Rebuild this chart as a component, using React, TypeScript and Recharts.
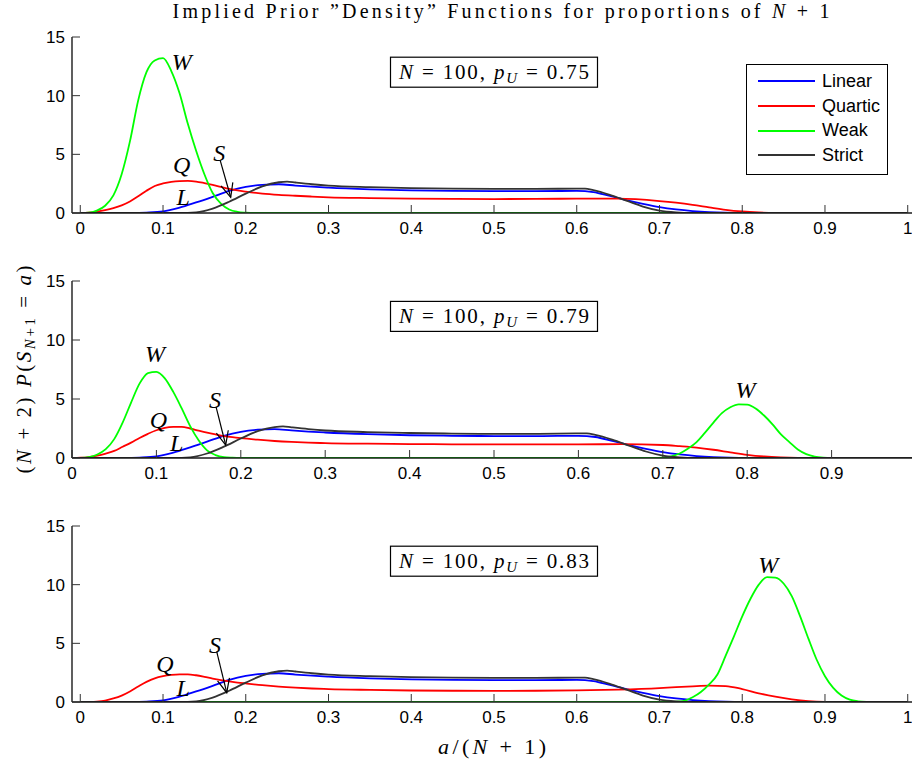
import React from "react";
import { LineChart, Line, XAxis, YAxis, Legend, ReferenceDot, ReferenceLine } from "recharts";

const xTicks = [0, 0.1, 0.2, 0.3, 0.4, 0.5, 0.6, 0.7, 0.8, 0.9, 1];
const yTicks = [0, 5, 10, 15];
const seriesNames = ["Linear", "Quartic", "Weak", "Strict"];
const pUValues = ["0.75", "0.79", "0.83"];

// Linear and Strict priors look the same in all three panels
const linearX = [0, 0.06, 0.08, 0.1, 0.12, 0.14, 0.16, 0.18, 0.2, 0.22, 0.24, 0.26, 0.28, 0.3, 0.35, 0.4, 0.45, 0.5, 0.55, 0.6, 0.62, 0.64, 0.66, 0.68, 0.7, 0.72, 0.74, 0.76, 0.78, 0.8, 1];
const linearY = [0, 0.01, 0.04, 0.13, 0.45, 0.9, 1.38, 1.88, 2.22, 2.4, 2.45, 2.34, 2.24, 2.16, 2.02, 1.93, 1.88, 1.86, 1.86, 1.88, 1.78, 1.45, 1.1, 0.78, 0.5, 0.3, 0.16, 0.07, 0.02, 0, 0];

const strictX = [0, 0.12, 0.14, 0.16, 0.18, 0.2, 0.22, 0.24, 0.25, 0.26, 0.28, 0.3, 0.35, 0.4, 0.45, 0.5, 0.55, 0.6, 0.61, 0.62, 0.64, 0.66, 0.68, 0.7, 0.72, 0.74, 1];
const strictY = [0, 0, 0.06, 0.38, 0.96, 1.65, 2.27, 2.62, 2.68, 2.6, 2.45, 2.33, 2.2, 2.12, 2.07, 2.05, 2.05, 2.08, 2.08, 1.95, 1.55, 1.05, 0.55, 0.2, 0.05, 0, 0];

const quarticX = [0, 0.01, 0.02, 0.03, 0.04, 0.05, 0.06, 0.07, 0.08, 0.09, 0.1, 0.11, 0.12, 0.13, 0.14, 0.15, 0.16, 0.17, 0.18, 0.19, 0.2, 0.22, 0.24, 0.26, 0.28, 0.3, 0.35, 0.4, 0.45, 0.5, 0.55, 0.6, 0.65, 0.7, 0.72, 0.74, 0.76, 0.78, 0.8, 0.82, 0.84, 0.86, 0.88, 0.9, 0.92, 1];
const quarticTop = [0, 0.03, 0.12, 0.25, 0.42, 0.65, 0.98, 1.42, 1.9, 2.3, 2.52, 2.66, 2.72, 2.73, 2.68, 2.55, 2.4, 2.22, 2.05, 1.92, 1.82, 1.66, 1.55, 1.47, 1.4, 1.34, 1.27, 1.22, 1.2, 1.19, 1.2, 1.22, 1.22, 1.02, 0.88, 0.7, 0.48, 0.27, 0.13, 0.05, 0.01, 0, 0, 0, 0, 0];
const quarticMid = [0, 0.02, 0.08, 0.2, 0.38, 0.6, 0.95, 1.3, 1.7, 2.05, 2.35, 2.55, 2.63, 2.64, 2.5, 2.32, 2.15, 2.0, 1.86, 1.76, 1.68, 1.55, 1.44, 1.36, 1.3, 1.26, 1.21, 1.18, 1.16, 1.15, 1.15, 1.16, 1.17, 1.1, 1.0, 0.88, 0.7, 0.48, 0.27, 0.13, 0.05, 0.01, 0, 0, 0, 0];
const quarticBot = [0, 0.01, 0.04, 0.12, 0.3, 0.55, 0.9, 1.32, 1.72, 2.02, 2.2, 2.31, 2.36, 2.36, 2.28, 2.15, 2.0, 1.87, 1.76, 1.66, 1.58, 1.43, 1.31, 1.22, 1.15, 1.1, 1.03, 0.98, 0.96, 0.95, 0.96, 0.99, 1.06, 1.19, 1.27, 1.34, 1.39, 1.36, 1.1, 0.74, 0.45, 0.22, 0.07, 0.01, 0, 0];

const weakTopX = [0, 0.01, 0.02, 0.03, 0.04, 0.05, 0.06, 0.07, 0.08, 0.09, 0.1, 0.11, 0.12, 0.13, 0.14, 0.15, 0.16, 0.17, 0.18, 0.19, 0.2, 0.21, 1];
const weakTopY = [0, 0.02, 0.2, 0.62, 1.5, 3.3, 6.1, 9.6, 12.0, 13.0, 13.2, 12.1, 10.2, 7.6, 5.3, 3.3, 1.7, 0.8, 0.3, 0.1, 0.03, 0, 0];

const weakMidX = [0, 0.01, 0.02, 0.03, 0.04, 0.05, 0.06, 0.07, 0.08, 0.09, 0.1, 0.11, 0.12, 0.13, 0.14, 0.15, 0.16, 0.17, 0.18, 0.19, 0.2, 0.21,
  0.69, 0.7, 0.71, 0.72, 0.73, 0.74, 0.75, 0.76, 0.77, 0.78, 0.79, 0.8, 0.81, 0.82, 0.83, 0.84, 0.85, 0.86, 0.87, 0.88, 0.89, 0.9, 0.91, 1];
const weakMidY = [0, 0.01, 0.08, 0.3, 0.75, 1.6, 3.0, 4.7, 6.3, 7.2, 7.3, 6.75, 5.6, 4.2, 2.7, 1.5, 0.65, 0.25, 0.07, 0.02, 0, 0,
  0, 0.04, 0.14, 0.38, 0.8, 1.35, 2.15, 3.0, 3.8, 4.3, 4.55, 4.53, 4.2, 3.6, 2.85, 2.0, 1.35, 0.72, 0.33, 0.12, 0.03, 0, 0, 0];

const weakBotX = [0, 0.71, 0.72, 0.73, 0.74, 0.75, 0.76, 0.77, 0.78, 0.79, 0.8, 0.81, 0.82, 0.83, 0.84, 0.85, 0.86, 0.87, 0.88, 0.89, 0.9, 0.91, 0.92, 0.93, 0.94, 0.95, 0.96, 1];
const weakBotY = [0, 0, 0.02, 0.1, 0.4, 0.85, 1.5, 2.35, 3.95, 5.6, 7.3, 8.8, 10.0, 10.65, 10.6, 10.1, 9.0, 7.3, 5.4, 3.6, 2.2, 1.2, 0.55, 0.2, 0.06, 0.01, 0, 0];

const sans = "'Liberation Sans', Arial, Helvetica, sans-serif";
const serif = "'Liberation Serif', 'Times New Roman', serif";
const colorOf: Record<string, string> = { Linear: "#0000ff", Quartic: "#ff0000", Weak: "#00ff00", Strict: "#333333" };

type Pt = { x: number; v: number };
const zip = (xs: number[], ys: number[]): Pt[] => xs.map((x, i) => ({ x, v: ys[i] }));

type Note = { t: string; x: number; y: number };
type Pos = { x: number; y: number };

const axisLine = { stroke: "#1a1a1a", strokeWidth: 1.4 };
const tickLine = { stroke: "#333", strokeWidth: 1 };
const tickText = { fill: "#000", fontSize: 17, fontFamily: sans };

function LegendBox(props: any) {
  const payload = props.payload || [];
  return (
    <div style={{ border: "1px solid #000", background: "#fff", padding: "4px 0 6px 0", fontFamily: sans, fontSize: 18, color: "#000" }}>
      {payload.map((p: any) => (
        <div key={p.value} style={{ display: "flex", alignItems: "center", height: 24.7 }}>
          <svg width={75} height={10} style={{ flex: "none" }}>
            <line x1={11} x2={68} y1={5} y2={5} stroke={p.color} strokeWidth={2} />
          </svg>
          <span>{p.value}</span>
        </div>
      ))}
    </div>
  );
}

function Arrow(p: any) {
  const { x1, y1, x2, y2 } = p;
  const a = Math.atan2(y2 - y1, x2 - x1);
  const len = 15;
  const spread = 0.42;
  const l = [x2 - len * Math.cos(a - spread), y2 - len * Math.sin(a - spread)];
  const r = [x2 - len * Math.cos(a + spread), y2 - len * Math.sin(a + spread)];
  return (
    <g stroke="#000" strokeWidth={1.2} fill="none">
      <line x1={x1} y1={y1} x2={x2} y2={y2} />
      <polyline points={`${l[0]},${l[1]} ${x2},${y2} ${r[0]},${r[1]}`} />
    </g>
  );
}

type PanelProps = {
  top: number;
  height: number;
  domain: [number, number];
  labelTicks: number[];
  quartic: number[];
  weakX: number[];
  weakY: number[];
  pU: string;
  notes: Note[];
  arrow: Pos[];
  legend?: boolean;
};

function Panel({ top, height, domain, labelTicks, quartic, weakX, weakY, pU, notes, arrow, legend }: PanelProps) {
  const series = [
    { name: "Linear", data: zip(linearX, linearY) },
    { name: "Quartic", data: zip(quarticX, quartic) },
    { name: "Weak", data: zip(weakX, weakY) },
    { name: "Strict", data: zip(strictX, strictY) },
  ];
  return (
    <div style={{ position: "absolute", left: 0, top }}>
      <LineChart width={930} height={height} margin={{ top: 37, right: 0, bottom: 0, left: 0 }}>
        <XAxis xAxisId="b" dataKey="x" type="number" domain={domain} ticks={labelTicks} allowDataOverflow interval={0}
          height={27} tickSize={-8} tickMargin={17} axisLine={axisLine} tickLine={tickLine} tick={tickText} />
        <XAxis xAxisId="t" orientation="top" dataKey="x" type="number" domain={domain} ticks={xTicks} allowDataOverflow interval={0}
          height={0} tickSize={-8} axisLine={axisLine} tickLine={tickLine} tick={false} />
        <YAxis yAxisId="l" type="number" domain={[0, 15]} ticks={yTicks} allowDataOverflow interval={0}
          width={72} tickSize={-8} tickMargin={15} axisLine={axisLine} tickLine={tickLine} tick={tickText} />
        <YAxis yAxisId="r" orientation="right" type="number" domain={[0, 15]} ticks={yTicks} allowDataOverflow interval={0}
          width={14} tickSize={-8} axisLine={axisLine} tickLine={tickLine} tick={false} />
        {series.map((s) => (
          <Line key={s.name} xAxisId="b" yAxisId="l" data={s.data} dataKey="v" name={s.name} type="monotone"
            stroke={colorOf[s.name]} strokeWidth={1.8} dot={false} activeDot={false} isAnimationActive={false} />
        ))}
        <ReferenceDot xAxisId="b" yAxisId="l" x={0.5} y={12} r={0}
          shape={(d: any) => (
            <g>
              <rect x={d.cx - 103.5} y={d.cy - 15} width={207} height={30} fill="#fff" stroke="#000" strokeWidth={1.2} />
              <text x={d.cx} y={d.cy + 7} textAnchor="middle" fontFamily={serif} fontSize={21} fill="#000"
                textLength={190} lengthAdjust="spacing">
                <tspan fontStyle="italic">N</tspan>
                <tspan>{" = 100, "}</tspan>
                <tspan fontStyle="italic">p</tspan>
                <tspan fontStyle="italic" fontSize={15} dy={4}>U</tspan>
                <tspan dy={-4}>{" = " + pU}</tspan>
              </text>
            </g>
          )} />
        {notes.map((n, i) => (
          <ReferenceDot key={i} xAxisId="b" yAxisId="l" x={n.x} y={n.y} r={0}
            shape={(d: any) => (
              <text x={d.cx} y={d.cy} dy="0.33em" textAnchor="middle" fontFamily={serif} fontStyle="italic" fontSize={24} fill="#000">
                {n.t}
              </text>
            )} />
        ))}
        <ReferenceLine xAxisId="b" yAxisId="l" segment={arrow} shape={Arrow} />
        {legend && (
          <Legend layout="vertical" align="center" verticalAlign="middle" content={LegendBox}
            itemSorter={(item: any) => seriesNames.indexOf(item.value)}
            wrapperStyle={{ left: 746, top: 64, width: 142 }} />
        )}
      </LineChart>
    </div>
  );
}

export default function App() {
  return (
    <div style={{ position: "absolute", left: 0, top: 0, width: 912, height: 762, overflow: "hidden", background: "#fff" }}>
      <Panel top={0} height={240} domain={[-0.01, 1.01]} labelTicks={xTicks} quartic={quarticTop} weakX={weakTopX} weakY={weakTopY} pU={pUValues[0]}
        notes={[
          { t: "W", x: 0.1226, y: 12.9 },
          { t: "Q", x: 0.1226, y: 4.09 },
          { t: "L", x: 0.1245, y: 1.39 },
          { t: "S", x: 0.168, y: 5.09 },
        ]}
        arrow={[{ x: 0.169, y: 4.5 }, { x: 0.1818, y: 1.34 }]} legend />
      <Panel top={244} height={241} domain={[0, 1]} labelTicks={xTicks.slice(0, 10)} quartic={quarticMid} weakX={weakMidX} weakY={weakMidY} pU={pUValues[1]}
        notes={[
          { t: "W", x: 0.0983, y: 8.79 },
          { t: "Q", x: 0.1023, y: 3.22 },
          { t: "L", x: 0.124, y: 1.25 },
          { t: "S", x: 0.1694, y: 4.92 },
          { t: "W", x: 0.798, y: 5.76 },
        ]}
        arrow={[{ x: 0.1706, y: 4.35 }, { x: 0.1821, y: 1.1 }]} />
      <Panel top={489} height={240} domain={[-0.01, 1.01]} labelTicks={xTicks} quartic={quarticBot} weakX={weakBotX} weakY={weakBotY} pU={pUValues[2]}
        notes={[
          { t: "Q", x: 0.1024, y: 3.24 },
          { t: "L", x: 0.1245, y: 1.17 },
          { t: "S", x: 0.1628, y: 4.86 },
          { t: "W", x: 0.8315, y: 11.68 },
        ]}
        arrow={[{ x: 0.1649, y: 4.29 }, { x: 0.177, y: 0.79 }]} />
      <svg width={912} height={762} style={{ position: "absolute", left: 0, top: 0, pointerEvents: "none" }}>
        <text x={501} y={18} textAnchor="middle" fontFamily={serif} fontSize={20} fill="#000" textLength={657} lengthAdjust="spacing">
          Implied Prior ”Density” Functions for proportions of <tspan fontStyle="italic">N</tspan> + 1
        </text>
        <text transform="translate(31,369.5) rotate(-90)" textAnchor="middle" fontFamily={serif} fontSize={21} fill="#000"
          textLength={208} lengthAdjust="spacing">
          (<tspan fontStyle="italic">N</tspan> + 2) <tspan fontStyle="italic">P</tspan>(<tspan fontStyle="italic">S</tspan>
          <tspan fontStyle="italic" fontSize={15} dy={4}>N</tspan><tspan fontSize={15}>+1</tspan>
          <tspan dy={-4}>{" = "}</tspan><tspan fontStyle="italic">a</tspan>)
        </text>
        <text x={492} y={754} textAnchor="middle" fontFamily={serif} fontSize={22} fill="#000" textLength={108} lengthAdjust="spacing">
          <tspan fontStyle="italic">a</tspan>/(<tspan fontStyle="italic">N</tspan> + 1)
        </text>
      </svg>
    </div>
  );
}
